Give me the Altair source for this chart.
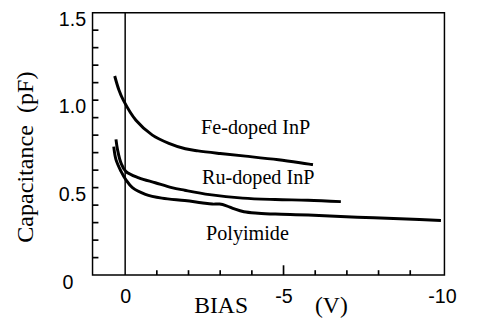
import altair as alt
import pandas as pd

# ---- data ----
series_names = ["Fe-doped InP", "Ru-doped InP", "Polyimide"]

fe_bias = [0.33, 0.2, 0.05, -0.34, -0.86, -1.38, -1.9, -2.3, -3.0, -3.8, -4.84, -5.93]
fe_cap = [1.138, 1.06, 0.997, 0.885, 0.80, 0.753, 0.722, 0.71, 0.695, 0.68, 0.659, 0.631]

ru_bias = [0.29, 0.24, 0.13, -0.02, -0.43, -0.95, -1.47, -1.88, -2.67, -3.71, -4.74, -5.77, -6.81]
ru_cap = [0.776, 0.716, 0.64, 0.593, 0.556, 0.528, 0.50, 0.485, 0.46, 0.44, 0.432, 0.428, 0.42]

pi_bias = [0.36, 0.29, 0.13, -0.02, -0.23, -0.64, -1.16, -1.88, -2.4, -2.75, -2.98, -3.2,
           -3.45, -3.75, -4.2, -4.74, -5.78, -7.33, -8.88, -9.97]
pi_cap = [0.734, 0.66, 0.593, 0.546, 0.50, 0.462, 0.44, 0.426, 0.414, 0.406, 0.406, 0.396,
          0.378, 0.362, 0.354, 0.349, 0.344, 0.331, 0.321, 0.312]

x_label_values = [0, -5, -10]
y_label_values = [0.5, 1.0, 1.5]
y_zero_label = ["0"]
y_minor_ticks = [0.1, 0.2, 0.3, 0.4, 0.5, 0.6, 0.7, 0.8, 0.9, 1.0, 1.1, 1.2, 1.3, 1.4]
x_minor_ticks = [-1, -2, -3, -4, -6, -7, -8, -9]
x_major_ticks = [-5]

annot_text = ["Fe-doped InP", "Ru-doped InP", "Polyimide"]
annot_bias = [-4.12, -4.2, -3.86]
annot_cap = [0.84, 0.556, 0.237]

xtitle_text = ["BIAS", "(V)"]
xtitle_bias = [-3.03, -6.51]

# ---- tables ----
rows = []
for name, xs, ys in zip(series_names, [fe_bias, ru_bias, pi_bias], [fe_cap, ru_cap, pi_cap]):
    for i, (xv, yv) in enumerate(zip(xs, ys)):
        rows.append({"series": name, "bias": xv, "cap": yv, "order": i})
df = pd.DataFrame(rows)

W, H = 358, 267
xscale = alt.Scale(domain=[1.03, -10.08], nice=False, zero=False)
yscale = alt.Scale(domain=[0, 1.5], nice=False, zero=False)

lines = alt.Chart(df).mark_line(color="black", strokeWidth=3, interpolate="catmull-rom").encode(
    x=alt.X("bias:Q", scale=xscale,
            axis=alt.Axis(values=x_label_values, title=None, grid=False, domain=False,
                          tickSize=0, labelFont="Liberation Sans", labelFontSize=20,
                          labelColor="black", labelPadding=12,
                          labelExpr="datum.value == 0 ? '0' : '-' + toString(abs(datum.value))")),
    y=alt.Y("cap:Q", scale=yscale,
            axis=alt.Axis(values=y_label_values, title="Capacitance\u00a0\u00a0(pF)", grid=False,
                          domain=False, tickSize=0, labelFont="Liberation Sans",
                          labelFontSize=20, labelColor="black", labelPadding=7,
                          labelOffset=7, format=".1f",
                          titleFont="Liberation Serif", titleFontSize=24.5,
                          titleFontWeight="normal", titleColor="black",
                          titleAngle=270, titleX=-61, titleY=H / 2 + 13,
                          titleAlign="center", titleBaseline="alphabetic")),
    detail="series:N",
    order="order:Q",
)

zero_lab = alt.Chart(pd.DataFrame({"t": y_zero_label, "cap": [0]})).mark_text(
    font="Liberation Sans", fontSize=20, color="black", align="center", baseline="middle", dy=8
).encode(y=alt.Y("cap:Q", scale=yscale), x=alt.value(-25), text="t:N")

zero_line = alt.Chart(pd.DataFrame({"bias": [0]})).mark_rule(color="black", strokeWidth=1.5).encode(
    x=alt.X("bias:Q", scale=xscale)
)

yticks = alt.Chart(pd.DataFrame({"cap": y_minor_ticks})).mark_tick(
    color="black", thickness=1.7, size=6, orient="horizontal", opacity=1
).encode(y=alt.Y("cap:Q", scale=yscale), x=alt.value(3))

xminor = alt.Chart(pd.DataFrame({"bias": x_minor_ticks})).mark_tick(
    color="black", thickness=1.7, size=5, orient="vertical", opacity=1
).encode(x=alt.X("bias:Q", scale=xscale), y=alt.value(H - 2.5))

xmajor = alt.Chart(pd.DataFrame({"bias": x_major_ticks})).mark_tick(
    color="black", thickness=1.7, size=10, orient="vertical", opacity=1
).encode(x=alt.X("bias:Q", scale=xscale), y=alt.value(H - 5))

annot = alt.Chart(pd.DataFrame({"t": annot_text, "bias": annot_bias, "cap": annot_cap})).mark_text(
    font="Liberation Serif", fontSize=20.5, color="black", align="center", baseline="middle"
).encode(x=alt.X("bias:Q", scale=xscale), y=alt.Y("cap:Q", scale=yscale), text="t:N")

xtitle = alt.Chart(pd.DataFrame({"t": xtitle_text, "bias": xtitle_bias})).mark_text(
    font="Liberation Serif", fontSize=24, color="black", align="center", baseline="alphabetic"
).encode(x=alt.X("bias:Q", scale=xscale), y=alt.value(H + 39), text="t:N")

chart = alt.layer(lines, zero_line, yticks, xminor, xmajor, annot, xtitle, zero_lab).properties(
    width=W, height=H,
    autosize=alt.AutoSizeParams(type="none"),
    padding={"left": 86, "top": 2, "right": 26, "bottom": 47},
    background="white",
).configure_view(stroke="black", strokeWidth=1.5)

chart.save("out.html", embed_options={"renderer": "svg", "actions": False})
